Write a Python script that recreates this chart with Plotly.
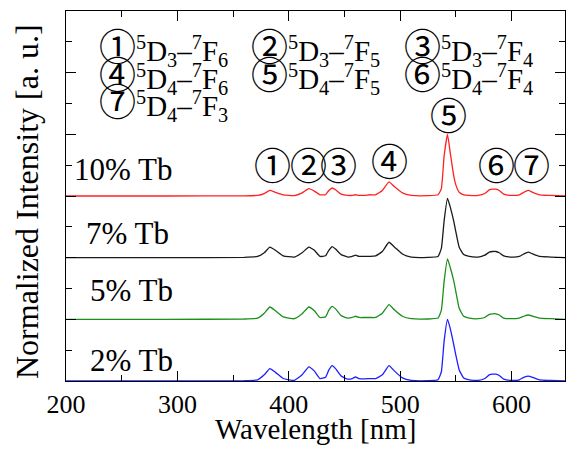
import plotly.graph_objects as go

# Wavelength grid (nm) and normalized intensities
wavelength = [200, 290, 360, 372, 378, 383, 388, 395, 405, 412, 418, 423, 428, 433, 436, 439,
              442, 447, 453, 457, 460, 463, 468, 473, 478, 484, 490, 495, 502, 510, 525, 534,
              537, 539.5, 542.5, 545, 548, 550, 553, 557, 562, 570, 576, 580, 583, 586, 589,
              593, 600, 607, 611, 615, 619, 625, 635, 648]

tb2 = [0, 0, 0.005, 0.02, 0.10, 0.20, 0.14, 0.04, 0.01, 0.10, 0.23, 0.16, 0.04, 0.06, 0.18, 0.25,
       0.20, 0.08, 0.03, 0.04, 0.065, 0.04, 0.035, 0.04, 0.04, 0.10, 0.25, 0.16, 0.05, 0.01, 0.005, 0.02,
       0.15, 0.65, 1.0, 0.85, 0.60, 0.42, 0.18, 0.05, 0.02, 0.01, 0.04, 0.10, 0.11, 0.11, 0.09,
       0.03, 0.01, 0.02, 0.06, 0.08, 0.06, 0.02, 0.01, 0.0]

tb5 = [0, 0, 0.005, 0.02, 0.10, 0.20, 0.14, 0.04, 0.01, 0.09, 0.20, 0.14, 0.03, 0.04, 0.15, 0.21,
       0.17, 0.06, 0.02, 0.03, 0.05, 0.03, 0.03, 0.03, 0.03, 0.10, 0.24, 0.15, 0.05, 0.01, 0.005, 0.02,
       0.15, 0.62, 0.98, 0.84, 0.63, 0.45, 0.18, 0.05, 0.02, 0.01, 0.03, 0.08, 0.09, 0.09, 0.07,
       0.02, 0.01, 0.02, 0.05, 0.07, 0.05, 0.02, 0.01, 0.0]

tb7 = [0, 0, 0.005, 0.02, 0.08, 0.17, 0.12, 0.03, 0.01, 0.08, 0.17, 0.12, 0.02, 0.03, 0.12, 0.18,
       0.14, 0.05, 0.01, 0.02, 0.04, 0.02, 0.02, 0.02, 0.03, 0.10, 0.25, 0.17, 0.06, 0.01, 0.005, 0.02,
       0.15, 0.60, 0.96, 0.82, 0.60, 0.42, 0.17, 0.05, 0.02, 0.01, 0.04, 0.09, 0.10, 0.10, 0.08,
       0.03, 0.01, 0.02, 0.06, 0.09, 0.06, 0.02, 0.01, 0.0]

tb10 = [0, 0, 0.003, 0.01, 0.04, 0.09, 0.06, 0.02, 0.005, 0.05, 0.12, 0.08, 0.02, 0.02, 0.09, 0.13,
        0.10, 0.03, 0.01, 0.01, 0.02, 0.01, 0.01, 0.02, 0.02, 0.09, 0.23, 0.15, 0.05, 0.01, 0.005, 0.02,
        0.12, 0.65, 1.0, 0.70, 0.34, 0.18, 0.06, 0.02, 0.01, 0.01, 0.04, 0.10, 0.11, 0.11, 0.09,
        0.03, 0.01, 0.02, 0.06, 0.09, 0.06, 0.02, 0.01, 0.0]

series_names = ["2% Tb", "5% Tb", "7% Tb", "10% Tb"]
series_values = [tb2, tb5, tb7, tb10]
series_offsets = [0, 1, 2, 3]
series_colors = ["#1f1fff", "#1a8f1a", "#1a1a1a", "#ff2020"]

# Series label positions (wavelength, y)
label_x = [220, 220, 216.4, 205.8]
label_y = [0.33, 1.46, 2.40, 3.43]

# Peak labels
peak_marks = ["①", "②", "③", "④", "⑤", "⑥", "⑦"]
peak_x = [385, 417.8, 444.4, 490.6, 543, 586.4, 617.5]
peak_y = [3.52, 3.52, 3.52, 3.59, 4.33, 3.52, 3.52]

# Transition legend
legend_items = [
    ("①", "5", "D", "3", "7", "F", "6"),
    ("②", "5", "D", "3", "7", "F", "5"),
    ("③", "5", "D", "3", "7", "F", "4"),
    ("④", "5", "D", "4", "7", "F", "6"),
    ("⑤", "5", "D", "4", "7", "F", "5"),
    ("⑥", "5", "D", "4", "7", "F", "4"),
    ("⑦", "5", "D", "4", "7", "F", "3"),
]
legend_x = [228, 364.6, 502, 228, 364.6, 502, 228]
legend_y = [5.45, 5.45, 5.45, 5.0, 5.0, 5.0, 4.56]

x_title = "Wavelength [nm]"
y_title = "Normalized Intensity [a. u.]"

SERIF = "Liberation Serif"
CJK = "Noto Sans CJK JP"

fig = go.Figure()
for name, vals, off, col in zip(series_names, series_values, series_offsets, series_colors):
    fig.add_trace(go.Scatter(
        x=wavelength, y=[v + off for v in vals], mode="lines", name=name,
        line=dict(color=col, width=1.3, shape="spline", smoothing=0.4),
        showlegend=False, hoverinfo="skip"))

for name, lx, ly in zip(series_names, label_x, label_y):
    fig.add_annotation(x=lx, y=ly, text=name, showarrow=False, xanchor="left", yanchor="middle",
                       font=dict(family=SERIF, size=31, color="black"))

for m, px, py in zip(peak_marks, peak_x, peak_y):
    fig.add_annotation(x=px, y=py, text=m, showarrow=False, xanchor="center", yanchor="middle",
                       font=dict(family=CJK, size=37, color="black"))

for item, lx, ly in zip(legend_items, legend_x, legend_y):
    c, s1, L1, b1, s2, L2, b2 = item
    txt = (f'<span style="font-family:{CJK};font-size:37px">{c}</span>'
           f'<sup>{s1}</sup>{L1}<sub>{b1}</sub>–<sup>{s2}</sup>{L2}<sub>{b2}</sub>')
    fig.add_annotation(x=lx, y=ly, text=txt, showarrow=False, xanchor="left", yanchor="middle",
                       font=dict(family=SERIF, size=29, color="black"))

# axis titles
fig.add_annotation(xref="paper", yref="paper", x=0.5, y=-0.13, text=x_title, showarrow=False,
                   xanchor="center", yanchor="middle", font=dict(family=SERIF, size=29, color="black"))
fig.add_annotation(xref="paper", yref="paper", x=-0.078, y=0.484, text=y_title, showarrow=False,
                   textangle=-90, xanchor="center", yanchor="middle",
                   font=dict(family=SERIF, size=32, color="black"))

# The page body has an 8 px margin; keep the figure inside the window so no scrollbars appear
fig.update_layout(
    width=558, height=439,
    margin=dict(l=58, r=1, t=3, b=66, autoexpand=False),
    paper_bgcolor="white", plot_bgcolor="white",
    font=dict(family=SERIF, color="black"),
)
fig.update_xaxes(
    range=[200, 648], dtick=100, tick0=200, ticks="inside", ticklen=10, tickwidth=1.2,
    tickcolor="black", showline=True, linecolor="black", linewidth=1.3, mirror="ticks",
    showgrid=False, zeroline=False, automargin=False,
    minor=dict(dtick=50, ticks="inside", ticklen=6, tickcolor="black", tickwidth=1.2, showgrid=False),
    tickfont=dict(family=SERIF, size=26, color="black"),
)
fig.update_yaxes(
    range=[0, 6], dtick=1, tick0=0, ticks="inside", ticklen=10, tickwidth=1.2,
    tickcolor="black", showline=True, linecolor="black", linewidth=1.3, mirror="ticks",
    showgrid=False, zeroline=False, showticklabels=False, automargin=False,
    minor=dict(dtick=0.5, ticks="inside", ticklen=6, tickcolor="black", tickwidth=1.2, showgrid=False),
)

fig.write_html("out.html")
